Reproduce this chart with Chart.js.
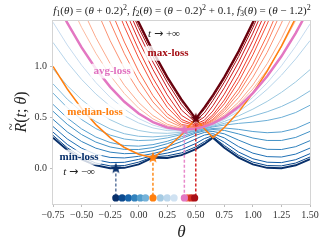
<!DOCTYPE html>
<html>
<head>
<meta charset="UTF-8">
<title>tilted risk</title>
<script src="https://cdn.jsdelivr.net/npm/chart.js"></script>
<style>
  html, body { margin: 0; padding: 0; background: #fff; }
</style>
</head>
<body>
<canvas id="myChart" width="329" height="251"></canvas>
<script>
// theta grid (shared by every curve)
const theta = [-0.75, -0.625, -0.5, -0.375, -0.25, -0.125, 0, 0.125, 0.25, 0.375, 0.5, 0.575, 0.65, 0.75, 0.875, 1.0, 1.125, 1.25, 1.375, 1.5];

// named objectives
const minLoss = [0.3025, 0.1806, 0.09, 0.0306, 0.0025, 0.0056, 0.04, 0.1056, 0.1025, 0.1306, 0.19, 0.2406, 0.3025, 0.2025, 0.1056, 0.04, 0.0056, 0.0025, 0.0306, 0.09];
const maxLoss = [3.8025, 3.3306, 2.89, 2.4806, 2.1025, 1.7556, 1.44, 1.1556, 0.9025, 0.6806, 0.49, 0.6006, 0.7225, 0.9025, 1.1556, 1.44, 1.7556, 2.1025, 2.4806, 2.89];
const avgLoss = [1.7025, 1.4306, 1.19, 0.9806, 0.8025, 0.6556, 0.54, 0.4556, 0.4025, 0.3806, 0.39, 0.4106, 0.4425, 0.5025, 0.6056, 0.74, 0.9056, 1.1025, 1.3306, 1.59];
const medianLoss = [1.003, 0.781, 0.59, 0.431, 0.303, 0.206, 0.14, 0.106, 0.203, 0.331, 0.49, 0.391, 0.303, 0.403, 0.556, 0.74, 0.956, 1.203, 1.481, 1.79];

// tilted curves, t < 0 (light -> dark)
const tNeg025 = [1.438, 1.214, 1.016, 0.845, 0.700, 0.583, 0.491, 0.426, 0.387, 0.374, 0.388, 0.408, 0.438, 0.492, 0.583, 0.699, 0.841, 1.009, 1.202, 1.420];
const tNeg05 = [1.239, 1.044, 0.876, 0.732, 0.613, 0.518, 0.447, 0.398, 0.372, 0.368, 0.385, 0.405, 0.433, 0.481, 0.560, 0.659, 0.778, 0.917, 1.077, 1.257];
const tNeg1 = [0.978, 0.814, 0.677, 0.566, 0.479, 0.415, 0.373, 0.350, 0.345, 0.356, 0.380, 0.400, 0.424, 0.462, 0.517, 0.583, 0.659, 0.748, 0.851, 0.971];
const tNeg15 = [0.832, 0.681, 0.558, 0.461, 0.389, 0.341, 0.316, 0.310, 0.321, 0.344, 0.374, 0.395, 0.415, 0.443, 0.478, 0.515, 0.557, 0.609, 0.676, 0.763];
const tNeg2 = [0.741, 0.598, 0.481, 0.392, 0.328, 0.289, 0.274, 0.279, 0.300, 0.333, 0.369, 0.389, 0.408, 0.426, 0.443, 0.455, 0.472, 0.502, 0.550, 0.621];
const tNeg3 = [0.630, 0.496, 0.389, 0.309, 0.255, 0.225, 0.219, 0.234, 0.267, 0.312, 0.358, 0.380, 0.393, 0.398, 0.384, 0.363, 0.351, 0.359, 0.392, 0.454];
const tNeg4 = [0.562, 0.434, 0.333, 0.259, 0.211, 0.187, 0.186, 0.205, 0.243, 0.294, 0.347, 0.370, 0.382, 0.374, 0.339, 0.299, 0.275, 0.275, 0.305, 0.364];
const tNeg6 = [0.483, 0.359, 0.265, 0.199, 0.160, 0.145, 0.150, 0.173, 0.212, 0.265, 0.326, 0.354, 0.364, 0.340, 0.278, 0.221, 0.188, 0.186, 0.214, 0.273];
const tNeg10 = [0.412, 0.290, 0.199, 0.139, 0.108, 0.103, 0.119, 0.146, 0.181, 0.227, 0.290, 0.328, 0.342, 0.300, 0.214, 0.150, 0.116, 0.112, 0.141, 0.200];
const tNeg20 = [0.357, 0.236, 0.145, 0.086, 0.057, 0.060, 0.089, 0.126, 0.151, 0.185, 0.245, 0.293, 0.323, 0.257, 0.161, 0.095, 0.061, 0.057, 0.086, 0.145];
const tNeg50 = [0.325, 0.203, 0.112, 0.053, 0.025, 0.028, 0.062, 0.114, 0.124, 0.153, 0.212, 0.263, 0.311, 0.225, 0.128, 0.062, 0.028, 0.025, 0.053, 0.112];

// tilted curves, t > 0 (light -> dark)
const tPos025 = [2.010, 1.680, 1.388, 1.133, 0.915, 0.736, 0.593, 0.487, 0.419, 0.387, 0.392, 0.413, 0.447, 0.513, 0.629, 0.781, 0.969, 1.194, 1.455, 1.752];
const tPos05 = [2.307, 1.926, 1.586, 1.288, 1.032, 0.818, 0.648, 0.520, 0.435, 0.394, 0.395, 0.416, 0.453, 0.525, 0.652, 0.821, 1.030, 1.279, 1.567, 1.894];
const tPos1 = [2.791, 2.346, 1.941, 1.577, 1.257, 0.983, 0.760, 0.588, 0.470, 0.407, 0.400, 0.422, 0.463, 0.547, 0.698, 0.897, 1.141, 1.429, 1.757, 2.123];
const tPos15 = [3.083, 2.618, 2.188, 1.794, 1.440, 1.128, 0.864, 0.654, 0.504, 0.420, 0.404, 0.427, 0.474, 0.570, 0.742, 0.966, 1.235, 1.546, 1.896, 2.283];
const tPos2 = [3.256, 2.785, 2.348, 1.943, 1.574, 1.243, 0.954, 0.716, 0.539, 0.433, 0.409, 0.433, 0.484, 0.593, 0.783, 1.025, 1.311, 1.636, 1.998, 2.395];
const tPos3 = [3.436, 2.965, 2.524, 2.115, 1.738, 1.394, 1.085, 0.817, 0.601, 0.459, 0.417, 0.443, 0.506, 0.635, 0.853, 1.117, 1.420, 1.759, 2.131, 2.536];
const tPos4 = [3.528, 3.056, 2.615, 2.206, 1.828, 1.482, 1.168, 0.888, 0.652, 0.482, 0.424, 0.454, 0.527, 0.673, 0.906, 1.181, 1.491, 1.835, 2.211, 2.618];
const tPos6 = [3.619, 3.148, 2.707, 2.298, 1.919, 1.573, 1.257, 0.973, 0.723, 0.522, 0.436, 0.474, 0.564, 0.730, 0.977, 1.259, 1.574, 1.920, 2.298, 2.707];
const tPos10 = [3.693, 3.221, 2.780, 2.371, 1.993, 1.646, 1.330, 1.046, 0.793, 0.574, 0.452, 0.505, 0.616, 0.793, 1.046, 1.330, 1.646, 1.993, 2.371, 2.780];
const tPos20 = [3.748, 3.276, 2.835, 2.426, 2.048, 1.701, 1.385, 1.101, 0.848, 0.626, 0.470, 0.546, 0.668, 0.848, 1.101, 1.385, 1.701, 2.048, 2.426, 2.835];
const tPos50 = [3.780, 3.309, 2.868, 2.459, 2.081, 1.734, 1.418, 1.134, 0.881, 0.659, 0.482, 0.579, 0.701, 0.881, 1.134, 1.418, 1.734, 2.081, 2.459, 2.868];

// minimizers (stars) and the argmin dots on the bottom row
const starTheta = [-0.2, 0.125, 0.4, 0.5];
const starValue = [0, 0.106, 0.38, 0.49];
const blueDotTheta = [-0.2, -0.145, -0.09, -0.035, 0.015, 0.06, 0.19, 0.25, 0.31];
const redDotTheta = [0.43, 0.46, 0.49];
const dotLevel = -0.29;

const xTicks = [-0.75, -0.5, -0.25, 0, 0.25, 0.5, 0.75, 1.0, 1.25, 1.5];
const yTicks = [0, 0.5, 1.0];

// ---- styles ----
const blueSeries = [tNeg025, tNeg05, tNeg1, tNeg15, tNeg2, tNeg3, tNeg4, tNeg6, tNeg10, tNeg20, tNeg50];
const blueColors = ['#c6dbef', '#b5d4ea', '#9ecae1', '#85bcdc', '#6baed6', '#559fcf', '#4292c6', '#3182bd', '#2171b5', '#0f5ba6', '#08468a'];
const redSeries = [tPos025, tPos05, tPos1, tPos15, tPos2, tPos3, tPos4, tPos6, tPos10, tPos20, tPos50];
const redColors = ['#fcbba1', '#fcaa8d', '#fc9272', '#fb7e5e', '#fb6a4a', '#f44f39', '#ef3b2c', '#dd2a25', '#cb181d', '#a50f15', '#85070f'];
const starColors = ['#08306b', '#ff7f0e', '#e377c2', '#67000d'];
const dashColors = ['rgba(8,48,107,0.65)', '#ff8c1a', '#e98acb', '#d62728'];
const blueDotColors = ['#08306b', '#0c4a8f', '#1764ab', '#3282bd', '#539ecd', '#74b2d9', '#a6cbe3', '#bcd7ec', '#d0e2f2'];
const redDotColors = ['#f06448', '#d42d22', '#aa0f16'];

const SERIF = '"Liberation Serif", "DejaVu Serif", serif';

const pts = arr => theta.map((x, i) => ({ x: x, y: arr[i] }));

function curve(arr, color, width, order) {
    return {
        data: pts(arr), showLine: true, borderColor: color, borderWidth: width,
        pointRadius: 0, pointHoverRadius: 0, tension: 0, fill: false, order: order, clip: 0
    };
}

// filled five-point star like matplotlib '*'
function starImg(color, r) {
    const c = document.createElement('canvas');
    c.width = c.height = 2 * r + 2;
    const g = c.getContext('2d');
    g.beginPath();
    for (let k = 0; k < 10; k++) {
        const rad = k % 2 === 0 ? r : r * 0.42;
        const a = -Math.PI / 2 + k * Math.PI / 5;
        const px = r + 1 + rad * Math.cos(a), py = r + 1 + rad * Math.sin(a);
        k === 0 ? g.moveTo(px, py) : g.lineTo(px, py);
    }
    g.closePath();
    g.fillStyle = color;
    g.fill();
    return c;
}

const datasets = [];
blueSeries.forEach((arr, i) => datasets.push(curve(arr, blueColors[i], 1, 60 - i)));
datasets.push(curve(minLoss, '#08306b', 2, 40));
redSeries.forEach((arr, i) => datasets.push(curve(arr, redColors[i], 1, 35 - i)));
datasets.push(curve(maxLoss, '#67000d', 2, 15));
datasets.push(curve(medianLoss, '#ff7f0e', 1.5, 12));
datasets.push(curve(avgLoss, '#e377c2', 2.5, 11));

// dashed drops from each minimizer to the dot row
starTheta.forEach((x, i) => {
    datasets.push({
        data: [{ x: x, y: starValue[i] }, { x: x, y: dotLevel }],
        showLine: true, borderColor: dashColors[i], borderWidth: 1.5, borderDash: [3, 2],
        pointRadius: 0, tension: 0, order: 6
    });
});

datasets.push({
    data: blueDotTheta.map(x => ({ x: x, y: dotLevel })).concat(redDotTheta.map(x => ({ x: x, y: dotLevel }))),
    pointRadius: 3.6, pointBorderWidth: 0,
    pointBackgroundColor: blueDotColors.concat(redDotColors), order: 4
});
datasets.push({
    data: [{ x: starTheta[1], y: dotLevel }, { x: starTheta[2], y: dotLevel }],
    pointRadius: 3.6, pointBorderWidth: 0,
    pointBackgroundColor: [starColors[1], starColors[2]], order: 3
});
datasets.push({
    data: starTheta.map((x, i) => ({ x: x, y: starValue[i] })),
    pointStyle: starColors.map(c => starImg(c, 6)), pointRadius: 6, order: 2
});

// text helpers
function drawRuns(ctx, parts, cx, cy, size, weight) {
    const font = p => (p.it ? 'italic ' : '') + (weight || '') + ' ' +
        ((p.sub || p.sup) ? Math.round(size * 0.7) : size) + 'px ' + (p.fam || SERIF);
    let w = 0;
    parts.forEach(p => { ctx.font = font(p); p.w = ctx.measureText(p.s).width; w += p.w; });
    let x = cx - w / 2;
    ctx.textAlign = 'left';
    ctx.textBaseline = 'middle';
    parts.forEach(p => {
        ctx.font = font(p);
        const dy = p.sub ? size * 0.3 : (p.sup ? -size * 0.3 : 0);
        ctx.fillText(p.s, x, cy + dy);
        if (p.tilde) {
            ctx.font = (size * 0.8) + 'px ' + SERIF;
            ctx.textAlign = 'center';
            ctx.fillText('~', x + p.w / 2 + 1, cy - size * 0.62);
            ctx.textAlign = 'left';
        }
        x += p.w;
    });
    return w;
}

const titleParts = [
    { s: 'f', it: 1 }, { s: '1', sub: 1 }, { s: '(' }, { s: 'θ', it: 1 }, { s: ') = (' }, { s: 'θ', it: 1 }, { s: ' + 0.2)' }, { s: '2', sup: 1 },
    { s: ', ' }, { s: 'f', it: 1 }, { s: '2', sub: 1 }, { s: '(' }, { s: 'θ', it: 1 }, { s: ') = (' }, { s: 'θ', it: 1 }, { s: ' − 0.2)' }, { s: '2', sup: 1 }, { s: ' + 0.1, ' },
    { s: 'f', it: 1 }, { s: '3', sub: 1 }, { s: '(' }, { s: 'θ', it: 1 }, { s: ') = (' }, { s: 'θ', it: 1 }, { s: ' − 1.2)' }, { s: '2', sup: 1 }
];

// labels placed in data units
const notes = [
    { text: 'max-loss', color: '#a50f15', at: [0.257, 1.134] },
    { text: 'avg-loss', color: '#e070c0', at: [-0.233, 0.957] },
    { text: 'median-loss', color: '#ff7f0e', at: [-0.382, 0.563] },
    { text: 'min-loss', color: '#08306b', at: [-0.522, 0.111] }
];
const ARROW = '"DejaVu Sans", sans-serif';
const limits = [
    { parts: [{ s: 't', it: 1 }, { s: ' ' }, { s: '→', fam: ARROW }, { s: ' +∞' }], at: [0.222, 1.32] },
    { parts: [{ s: 't', it: 1 }, { s: ' ' }, { s: '→', fam: ARROW }, { s: ' −∞' }], at: [-0.522, -0.036] }
];

const decor = {
    id: 'decor',
    beforeDatasetsDraw(chart) {
        const { ctx, chartArea: a } = chart;
        ctx.save();
        ctx.strokeStyle = '#d4d4d4';
        ctx.lineWidth = 1;
        ctx.strokeRect(a.left - 0.5, a.top - 0.5, a.right - a.left + 1, a.bottom - a.top + 1);
        ctx.restore();
    },
    afterDatasetsDraw(chart) {
        const { ctx, scales: { x, y } } = chart;
        ctx.save();
        notes.forEach(n => {
            const px = x.getPixelForValue(n.at[0]), py = y.getPixelForValue(n.at[1]);
            ctx.font = 'bold 11px ' + SERIF;
            const w = ctx.measureText(n.text).width;
            ctx.fillStyle = 'rgba(255,255,255,0.8)';
            ctx.beginPath();
            ctx.roundRect(px - w / 2 - 3, py - 7.5, w + 6, 15, 3);
            ctx.fill();
            ctx.fillStyle = n.color;
            ctx.textAlign = 'center';
            ctx.textBaseline = 'middle';
            ctx.fillText(n.text, px, py + 0.5);
        });
        limits.forEach(l => {
            ctx.fillStyle = '#222';
            drawRuns(ctx, l.parts, x.getPixelForValue(l.at[0]), y.getPixelForValue(l.at[1]), 11);
        });
        // title
        ctx.fillStyle = '#222';
        drawRuns(ctx, titleParts, 182, 11, 11);
        // axis titles
        drawRuns(ctx, [{ s: 'θ', it: 1 }], (chart.chartArea.left + chart.chartArea.right) / 2, 233, 17);
        ctx.translate(22, 112);
        ctx.rotate(-Math.PI / 2);
        drawRuns(ctx, [{ s: 'R', it: 1, tilde: 1 }, { s: '(' }, { s: 't', it: 1 }, { s: '; ' }, { s: 'θ', it: 1 }, { s: ')' }], 0, 0, 16);
        ctx.restore();
    }
};

const fmt = v => (v < 0 ? '−' : '') + Math.abs(v).toFixed(2);

const ctx = document.getElementById('myChart').getContext('2d');
const chart = new Chart(ctx, {
    type: 'scatter',
    data: { datasets: datasets },
    options: {
        responsive: false,
        animation: false,
        events: [],
        layout: { padding: { top: 21, right: 19, left: 0, bottom: 0 } },
        plugins: { legend: { display: false }, tooltip: { enabled: false }, title: { display: false } },
        scales: {
            x: {
                type: 'linear', min: -0.75, max: 1.5,
                afterBuildTicks: s => { s.ticks = xTicks.map(v => ({ value: v })); },
                afterFit: s => { s.height = 47; },
                ticks: { callback: v => fmt(v), font: { family: SERIF, size: 10 }, color: '#333', maxRotation: 0, autoSkip: false, padding: 2 },
                grid: { drawOnChartArea: false, tickLength: 3, color: '#bdbdbd' },
                border: { display: false }
            },
            y: {
                type: 'linear', min: -0.35, max: 1.45,
                afterBuildTicks: s => { s.ticks = yTicks.map(v => ({ value: v })); },
                afterFit: s => { s.width = 53; },
                ticks: { callback: v => v.toFixed(1), font: { family: SERIF, size: 10 }, color: '#333', padding: 3 },
                grid: { drawOnChartArea: false, tickLength: 3, color: '#bdbdbd' },
                border: { display: false }
            }
        }
    },
    plugins: [decor]
});
</script>
</body>
</html>
